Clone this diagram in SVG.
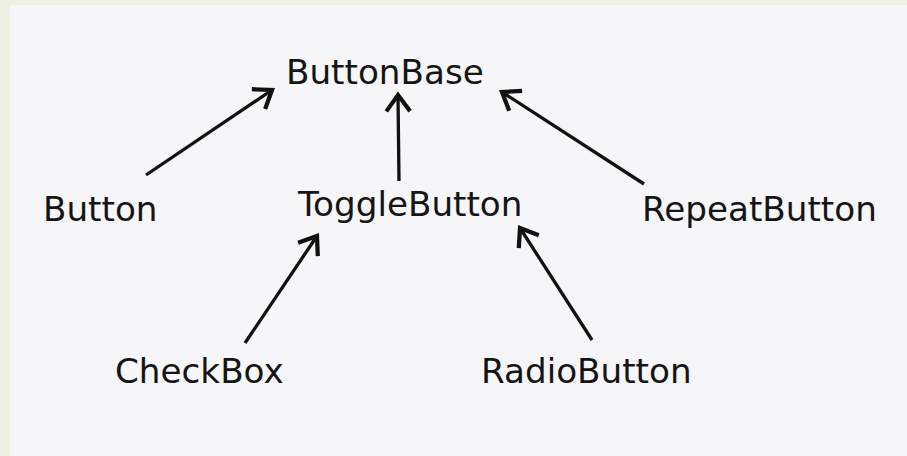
<svg xmlns="http://www.w3.org/2000/svg" width="907" height="456" viewBox="0 0 907 456">
<style>
.lbl{font-family:"DejaVu Sans",Verdana,sans-serif;font-size:34.2px;fill:#151515}
.edge{stroke:#111;stroke-width:3.3;fill:none;stroke-linecap:butt}
</style>
<defs>
<marker id="ah" markerUnits="userSpaceOnUse" markerWidth="30" markerHeight="30" viewBox="-16 -12 20 24" refX="0" refY="0" orient="auto">
<path d="M-13,-9.5 L0,0 L-13,9.5" fill="none" stroke="#111" stroke-width="3.4" stroke-linejoin="miter"/>
</marker>
</defs>
<rect x="0" y="0" width="907" height="456" fill="#eef1e2"/>
<rect x="10" y="5" width="897" height="451" fill="#f6f6f8"/>
<g id="connectors">
<line class="edge" x1="146" y1="175" x2="272" y2="90" marker-end="url(#ah)"/>
<line class="edge" x1="399" y1="181" x2="398" y2="95" marker-end="url(#ah)"/>
<line class="edge" x1="644" y1="184" x2="502" y2="92" marker-end="url(#ah)"/>
<line class="edge" x1="245" y1="343" x2="317" y2="236" marker-end="url(#ah)"/>
<line class="edge" x1="592" y1="340" x2="520" y2="228" marker-end="url(#ah)"/>
</g>
<g id="ButtonBase"><text class="lbl" x="286" y="84">ButtonBase</text></g>
<g id="Button"><text class="lbl" x="43" y="221">Button</text></g>
<g id="ToggleButton"><text class="lbl" x="298" y="216">ToggleButton</text></g>
<g id="RepeatButton"><text class="lbl" x="642" y="221">RepeatButton</text></g>
<g id="CheckBox"><text class="lbl" x="115" y="383">CheckBox</text></g>
<g id="RadioButton"><text class="lbl" x="481" y="383">RadioButton</text></g>
</svg>
